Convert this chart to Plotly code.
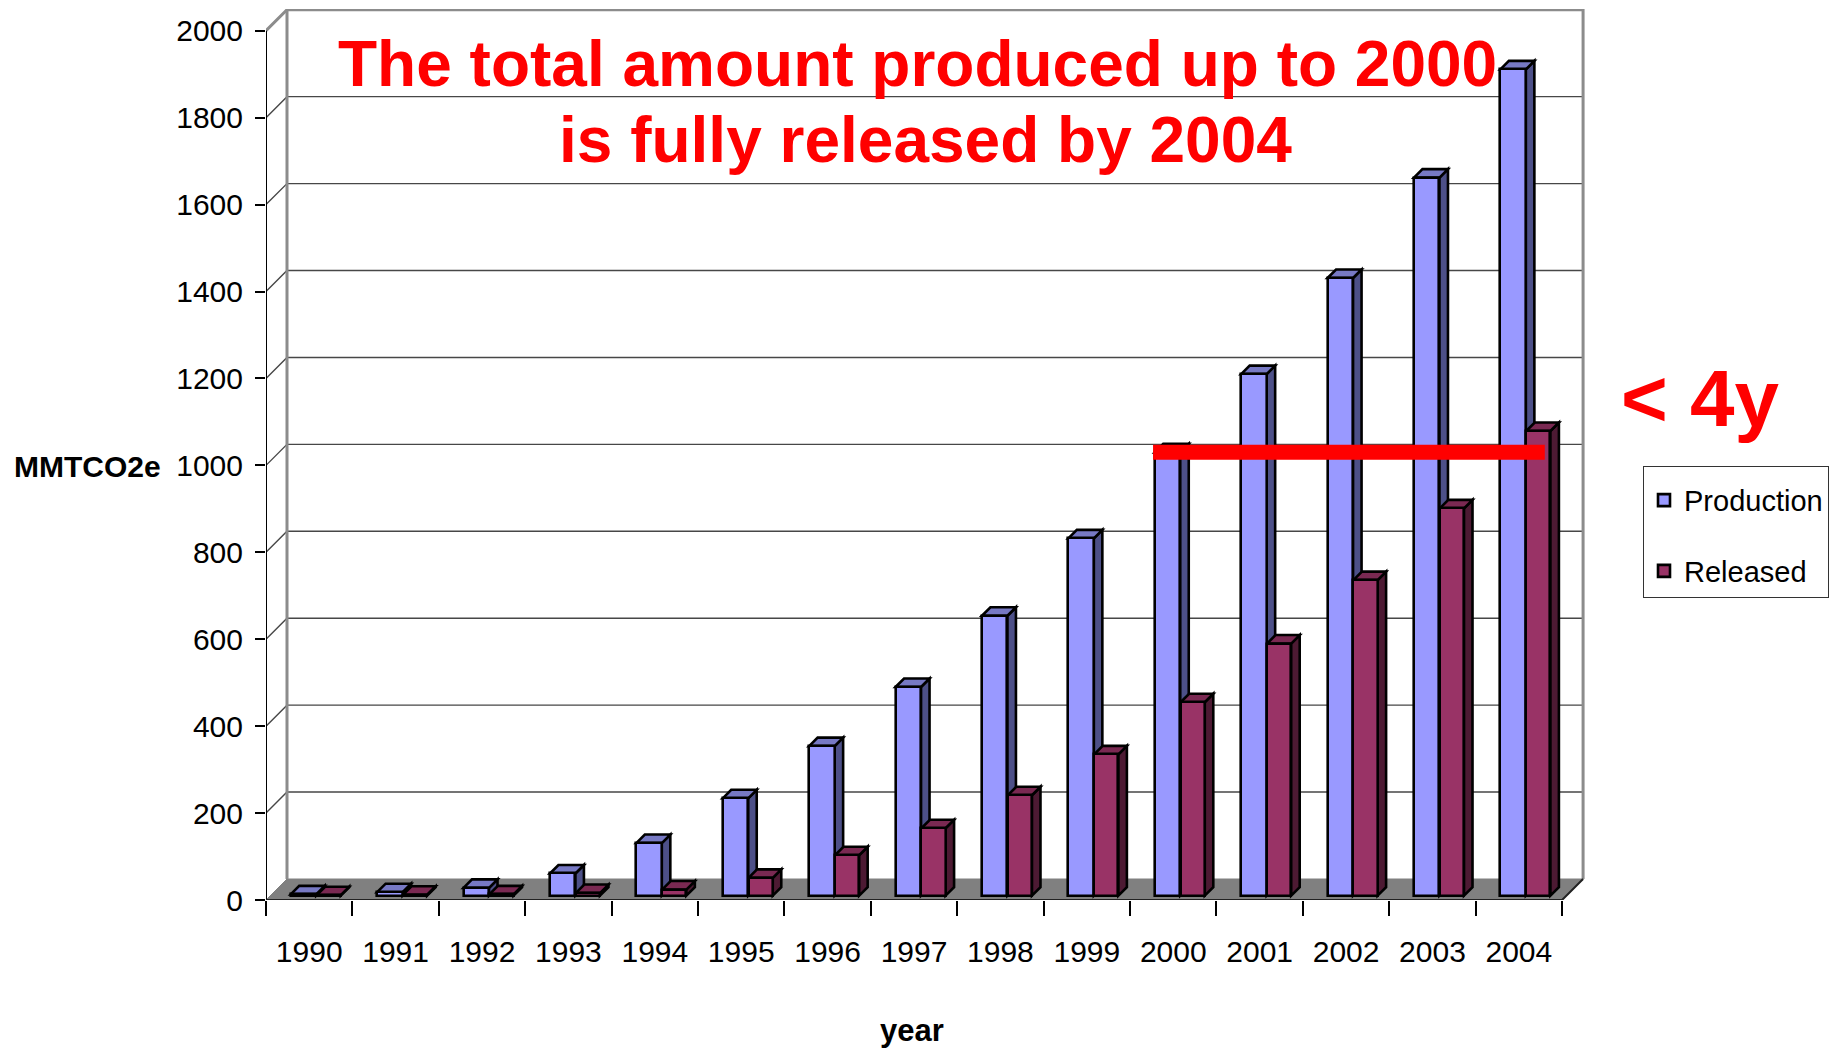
import plotly.graph_objects as go

# ---- data -------------------------------------------------------------
years = ["1990", "1991", "1992", "1993", "1994", "1995", "1996", "1997",
         "1998", "1999", "2000", "2001", "2002", "2003", "2004"]
production = [3, 8, 18, 51, 121, 224, 344, 480, 644, 822, 1020, 1200, 1421, 1652, 1901]
released = [1, 2, 3, 6, 14, 41, 93, 155, 231, 325, 445, 580, 726, 891, 1069]
y_ticks = [0, 200, 400, 600, 800, 1000, 1200, 1400, 1600, 1800, 2000]

# ---- page / frame geometry ---------------------------------------------
W, H = 1839, 1051
ML, MR, MT, MB = 266, 251, 9, 151
XMIN, XMAX = -0.5, 14.8
YMAX = 2050
plot_w = W - ML - MR
plot_h = H - MT - MB
px_per_x = plot_w / (XMAX - XMIN)
px_per_y = plot_h / YMAX

n = len(years)
idx = list(range(n))
x_left, x_right = -0.5, n - 0.5
y_top = y_ticks[-1]

# depth of the walls and of the columns, expressed in data units
WALL_DX, WALL_DY = 21 / px_per_x, 21 / px_per_y
BAR_DX, BAR_DY = 8.5 / px_per_x, 8.5 / px_per_y
BAR_BASE = 10

P_OFF, P_W = -0.214, 0.295
R_OFF, R_W = 0.085, 0.28

P_FRONT, P_SIDE, P_TOP = "#9999ff", "#4d5088", "#7779c4"
R_FRONT, R_SIDE, R_TOP = "#993366", "#4d1a33", "#7a2952"
OUTLINE = "black"
OW = 2.6

NARROW = "Liberation Sans Narrow, Arial Narrow, Liberation Sans, Arial, sans-serif"
WIDE = "Liberation Sans, Arial, Helvetica, sans-serif"


def paper_x(px):
    return (px - ML) / plot_w


def paper_y(py):
    return (H - MB - py) / plot_h


def poly(points):
    return "M " + " L ".join(f"{x},{y}" for x, y in points) + " Z"


def pline(points):
    return "M " + " L ".join(f"{x},{y}" for x, y in points)


shapes = []

# floor slab
shapes.append(dict(type="path", layer="below", xref="x", yref="y",
                   path=poly([(x_left, 0), (x_right, 0),
                              (x_right + WALL_DX, WALL_DY), (x_left + WALL_DX, WALL_DY)]),
                   fillcolor="#808080", line=dict(color="#808080", width=1)))

# gridlines: diagonal on the side wall, horizontal on the back wall
for v in y_ticks[1:-1]:
    shapes.append(dict(type="path", layer="below", xref="x", yref="y",
                       path=pline([(x_left, v), (x_left + WALL_DX, v + WALL_DY),
                                   (x_right + WALL_DX, v + WALL_DY)]),
                       line=dict(color="#474747", width=1.4)))

# back wall outline
shapes.append(dict(type="path", layer="below", xref="x", yref="y",
                   path=pline([(x_left, y_top), (x_left + WALL_DX, y_top + WALL_DY),
                               (x_right + WALL_DX, y_top + WALL_DY),
                               (x_right + WALL_DX, WALL_DY)]),
                   line=dict(color="#8c8c8c", width=3)))
shapes.append(dict(type="line", layer="below", xref="x", yref="y",
                   x0=x_left + WALL_DX, x1=x_left + WALL_DX, y0=WALL_DY, y1=y_top + WALL_DY,
                   line=dict(color="#8c8c8c", width=3)))

# front value axis and front floor edge
shapes.append(dict(type="line", layer="below", xref="x", yref="y",
                   x0=x_left, x1=x_left, y0=0, y1=y_top,
                   line=dict(color="black", width=2)))
shapes.append(dict(type="path", layer="below", xref="x", yref="y",
                   path=pline([(x_left, 0), (x_right, 0), (x_right + WALL_DX, WALL_DY)]),
                   line=dict(color="#222222", width=2)))

# side and top faces of every column
for i in idx:
    for off, w, val, side_c, top_c in ((P_OFF, P_W, production[i], P_SIDE, P_TOP),
                                       (R_OFF, R_W, released[i], R_SIDE, R_TOP)):
        x0 = i + off
        x1 = x0 + w
        b = BAR_BASE
        t = BAR_BASE + val
        shapes.append(dict(type="path", layer="between", xref="x", yref="y",
                           path=poly([(x1, b), (x1 + BAR_DX, b + BAR_DY),
                                      (x1 + BAR_DX, t + BAR_DY), (x1, t)]),
                           fillcolor=side_c, line=dict(color=OUTLINE, width=OW)))
        shapes.append(dict(type="path", layer="between", xref="x", yref="y",
                           path=poly([(x0, t), (x0 + BAR_DX, t + BAR_DY),
                                      (x1 + BAR_DX, t + BAR_DY), (x1, t)]),
                           fillcolor=top_c, line=dict(color=OUTLINE, width=OW)))

# red bar: production level of 2000, carried over to 2004
i2000 = years.index("2000")
i2004 = years.index("2004")
shapes.append(dict(type="line", layer="above", xref="x", yref="y",
                   x0=i2000 - 0.234, x1=i2004 + 0.30,
                   y0=BAR_BASE + production[i2000], y1=BAR_BASE + production[i2000],
                   line=dict(color="#ff0000", width=15)))

fig = go.Figure()
fig.add_trace(go.Bar(x=idx, y=production, base=BAR_BASE, offset=P_OFF, width=P_W,
                     name="Production", legendgroup="p",
                     marker=dict(color=P_FRONT, line=dict(color=OUTLINE, width=OW))))
fig.add_trace(go.Bar(x=idx, y=released, base=BAR_BASE, offset=R_OFF, width=R_W,
                     name="Released", legendgroup="r",
                     marker=dict(color=R_FRONT, line=dict(color=OUTLINE, width=OW))))

annotations = [
    dict(text="<b>The total amount produced up to 2000</b>", x=paper_x(917), y=paper_y(64),
         xref="paper", yref="paper", showarrow=False, xanchor="center", yanchor="middle",
         font=dict(family=WIDE, size=64, color="#ff0000")),
    dict(text="<b>is fully released by 2004</b>", x=paper_x(925), y=paper_y(140),
         xref="paper", yref="paper", showarrow=False, xanchor="center", yanchor="middle",
         font=dict(family=WIDE, size=64, color="#ff0000")),
    dict(text="<b>&lt; 4y</b>", x=paper_x(1700), y=paper_y(398),
         xref="paper", yref="paper", showarrow=False, xanchor="center", yanchor="middle",
         font=dict(family=WIDE, size=80, color="#ff0000")),
    dict(text="<b>MMTCO2e</b>", x=paper_x(88), y=paper_y(466),
         xref="paper", yref="paper", showarrow=False, xanchor="center", yanchor="middle",
         font=dict(family=NARROW, size=30, color="black")),
    dict(text="<b>year</b>", x=paper_x(912), y=paper_y(1030),
         xref="paper", yref="paper", showarrow=False, xanchor="center", yanchor="middle",
         font=dict(family=NARROW, size=31, color="black")),
]

fig.update_layout(
    width=W, height=H, autosize=False,
    margin=dict(l=ML, r=MR, t=MT, b=MB, pad=0, autoexpand=False),
    paper_bgcolor="white", plot_bgcolor="white",
    barmode="overlay", bargap=0,
    shapes=shapes, annotations=annotations,
    showlegend=True,
    legend=dict(x=paper_x(1643), y=paper_y(466), xanchor="left", yanchor="top",
                bordercolor="#333333", borderwidth=1, bgcolor="white",
                font=dict(family=NARROW, size=29, color="black"),
                title=dict(text=" ", font=dict(size=6)),
                traceorder="grouped", tracegroupgap=30),
    xaxis=dict(range=[XMIN, XMAX], tickmode="array", tickvals=idx, ticktext=years,
               ticks="", showgrid=False, zeroline=False, showline=False,
               tickfont=dict(family=NARROW, size=30, color="black"),
               ticklabelstandoff=31,
               minor=dict(tickmode="array", tickvals=[i - 0.5 for i in range(n + 1)],
                          ticks="outside", ticklen=15, tickwidth=1.5, tickcolor="black",
                          showgrid=False)),
    yaxis=dict(range=[0, YMAX], tickmode="array", tickvals=y_ticks,
               ticks="outside", ticklen=10, tickwidth=1.5, tickcolor="black",
               showgrid=False, zeroline=False, showline=False,
               tickfont=dict(family=NARROW, size=30, color="black"),
               ticklabelstandoff=6),
)

fig.write_html("out.html")
